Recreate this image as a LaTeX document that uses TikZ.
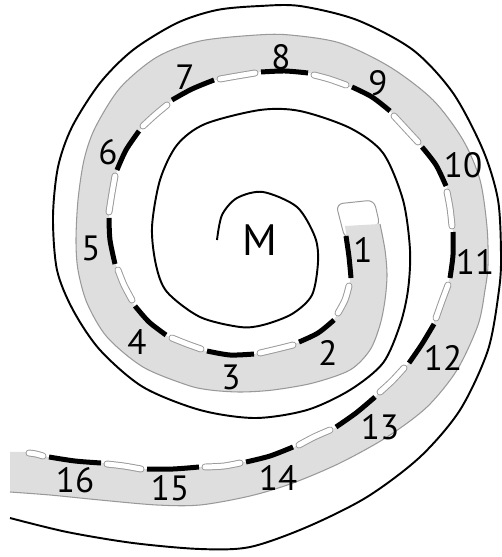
\documentclass[tikz,border=0pt]{standalone}
\usepackage{fontspec}
\setmainfont{PT Sans}
\definecolor{bandGray}{gray}{0.87}
\definecolor{edgeGray}{gray}{0.6}
\tikzset{
	spiralWall/.style={draw=black, line width=1.1pt},
	spiralBand/.style={fill=bandGray},
	spiralRim/.style={draw=edgeGray, line width=0.6pt},
	spiralGap/.style={draw=edgeGray, line width=0.55pt, double=white, double distance=0.1cm, line cap=round},
	spiralStep/.style={draw=black, line width=0.1cm},
	spiralCap/.style={draw=edgeGray, line width=0.55pt, fill=white, rounded corners=0.14cm},
	spiralNum/.style={font=\fontsize{20}{20}\selectfont, inner sep=0pt},
	spiralCentre/.style={font=\fontsize{25}{25}\selectfont, inner sep=0pt}
}

\begin{document}
\begin{tikzpicture}[x=0.02cm, y=-0.02cm]
	\useasboundingbox (0,0) rectangle (502,557);

	% Start of the band
	\draw[spiralCap] (345,239) -- (336,204) -- (374,200) -- (380,226) -- cycle;

	% Band
	\fill[spiralBand] plot[smooth] coordinates {(345,226) (349,257) (350,281) (345,300) (335,318) (318,333) (297,343) (277,349) (255,354) (230,355) (205,351) (187,344) (167,336) (149,322) (134,305) (124,285) (116,265) (110,240) (109,216) (112,193) (117,171) (126,150) (140,130) (155,115) (171,101) (192,89) (215,80) (237,76) (260,72) (285,71) (309,73) (329,79) (350,87) (372,97) (391,112) (406,129) (421,146) (436,165) (447,187) (450,208) (453,230) (453,255) (449,280) (442,301) (434,322) (422,344) (408,364) (392,381) (376,396) (356,413) (335,428) (314,437) (294,447) (270,456) (245,462) (224,466) (200,467) (173,469) (146,469) (124,466) (102,463) (75,461) (48,457) (36,454) (25,452) (10,452)}
		-- plot[smooth] coordinates {(10,492) (50,495) (100,500) (157,505) (200,505) (250,496) (293,483) (340,463) (387,437) (427,407) (457,370) (478,325) (485,290) (488,265) (487,227) (480,180) (463,140) (433,100) (390,67) (340,43) (290,35) (257,35) (200,41) (157,57) (120,88) (95,128) (84,160) (78,200) (76,240) (78,270) (87,303) (107,337) (143,367) (187,385) (210,390) (240,392) (273,390) (313,383) (350,370) (370,350) (380,325) (385,300) (387,275) (385,250) (380,224)}
		-- cycle;
	\draw[spiralRim] plot[smooth] coordinates {(380,224) (385,250) (387,275) (385,300) (380,325) (370,350) (350,370) (313,383) (273,390) (240,392) (210,390) (187,385) (143,367) (107,337) (87,303) (78,270) (76,240) (78,200) (84,160) (95,128) (120,88) (157,57) (200,41) (257,35) (290,35) (340,43) (390,67) (433,100) (463,140) (480,180) (487,227) (488,265) (485,290) (478,325) (457,370) (427,407) (387,437) (340,463) (293,483) (250,496) (200,505) (157,505) (100,500) (50,495) (10,492)};

	% Spiral wall
	\draw[spiralWall] plot[smooth] coordinates {(217,240) (222,215) (237,198) (263,192) (297,207) (315,237) (318,262) (312,295) (292,314) (263,325) (240,327) (200,317) (167,292) (156,265) (152,227) (160,180) (177,145) (205,124) (260,110) (300,111) (350,128) (383,153) (403,200) (410,250) (408,290) (400,325) (383,363) (350,390) (307,410) (255,418) (200,410) (143,387) (100,350) (73,310) (57,270) (53,217) (58,167) (72,127) (100,83) (133,50) (177,23) (217,10) (260,6) (300,6) (357,20) (413,50) (453,93) (483,150) (498,200) (501,255) (499,290) (488,350) (460,410) (420,457) (367,497) (307,527) (250,547) (200,549) (133,543) (67,532) (10,518)};

	% Light steps
	\foreach \xa/\ya/\xb/\yb/\xc/\yc in {349/286/345/300/338/313, 293/345/277/349/260/353, 201/349/187/344/172/338, 132/300/124/285/118/270, 109/212/112/193/115/176, 143/126/155/115/167/105, 220/79/237/76/255/73, 314/75/329/79/346/85, 394/116/406/129/418/142, 447/192/450/208/452/226, 448/285/442/301/436/318, 404/368/392/381/380/392, 330/430/314/437/299/445, 240/463/224/466/205/467, 141/469/124/466/107/464, 43/456/36/454/29/453}
		\draw[spiralGap] plot[smooth] coordinates {(\xa,\ya) (\xb,\yb) (\xc,\yc)};

	% Dark steps
	\foreach \xa/\ya/\xb/\yb/\xc/\yc in {346/236/349/257/351/278, 334/320/318/333/299/342, 254/354/230/355/207/351, 166/335/149/322/135/306, 115/264/110/240/109/218, 117/170/126/150/139/131, 172/100/192/89/214/80, 261/72/285/71/308/73, 352/87/372/97/390/111, 422/147/436/165/446/186, 453/232/453/255/450/278, 434/324/422/344/409/363, 375/397/356/413/336/427, 293/447/270/456/246/462, 199/467/173/469/147/469, 101/463/75/461/49/457}
		\draw[spiralStep] plot[smooth] coordinates {(\xa,\ya) (\xb,\yb) (\xc,\yc)};

	% Labels
	\foreach \i/\px/\py in {1/363/250, 2/328/353, 3/231/377, 4/137/342, 5/91/248, 6/108/152, 7/185/77, 8/281/57, 9/378/83, 10/463/165, 11/475/262, 12/443/358, 13/380/427, 14/278/478, 15/170/488, 16/75/480}
		\node[spiralNum] (n\i) at (\px,\py) {\i};
	\node[spiralCentre] (centre) at (260,240) {M};

\end{tikzpicture}
\end{document}
